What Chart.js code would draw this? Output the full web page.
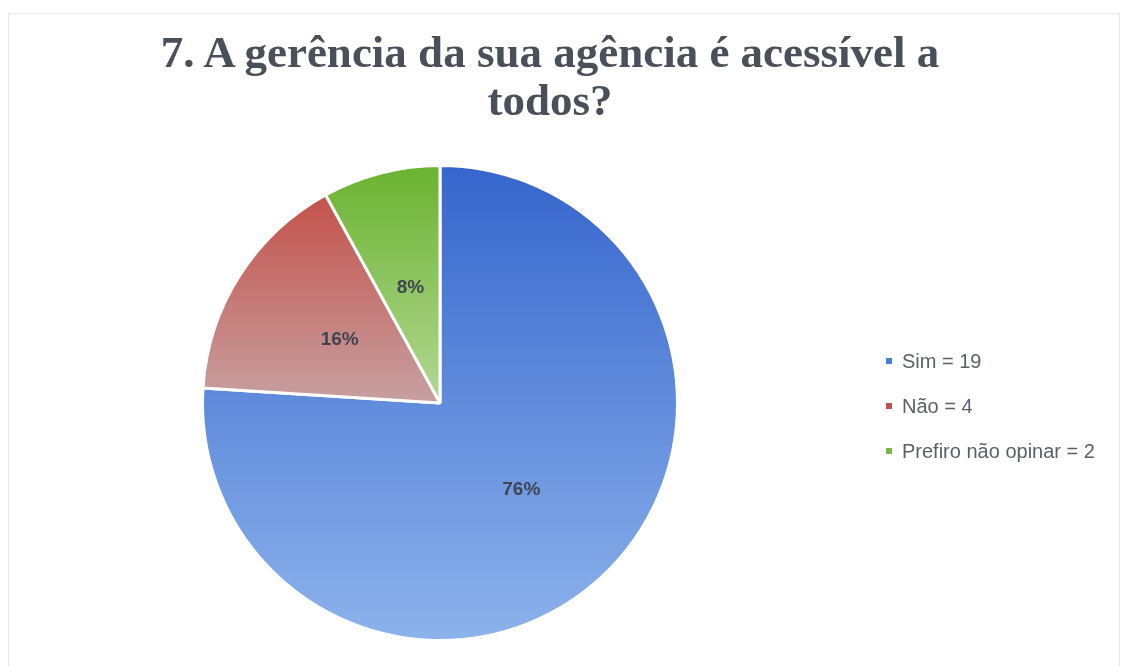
<!DOCTYPE html>
<html>
<head>
<meta charset="utf-8">
<script src="https://cdn.jsdelivr.net/npm/chart.js@4"></script>
<style>
  body { margin: 0; background: #fff; }
  #frame { position: absolute; left: 8px; top: 13px; width: 1110px; height: 660px; border: 1px solid #e6e6e6; }
  #title {
    position: absolute; left: 0; top: 28px; width: 1100px; text-align: center;
    font: bold 45px/48px "Liberation Serif", serif; color: #4a5059;
  }
  #wrap { position: absolute; left: 0; top: 0; width: 1100px; height: 666px; }
</style>
</head>
<body>
<div id="frame"></div>
<div id="wrap"><canvas id="pieChart"></canvas></div>
<div id="title">7. A gerência da sua agência é acessível a<br>todos?</div>
<script>
// chart data
const categories = ["Sim", "Não", "Prefiro não opinar"];
const counts = [19, 4, 2];

// gradient stops per slice: [top, bottom]
const topColors = ["#3565cc", "#c4463f", "#6ab330"];
const bottomColors = ["#8db3ec", "#c7a0a0", "#b3d793"];
const legendColors = ["#4a7fd6", "#c0504d", "#7ab648"];

const total = counts.reduce((a, b) => a + b, 0);

function sliceFill(c) {
  const chart = c.chart;
  const area = chart.chartArea;
  const i = c.dataIndex;
  if (!area) return legendColors[i];
  // red and green sit in the upper half only, so stretch them to the centre
  const bottom = i === 0 ? area.bottom : (area.top + area.bottom) / 2;
  const g = chart.ctx.createLinearGradient(0, area.top, 0, bottom);
  g.addColorStop(0, topColors[i]);
  g.addColorStop(1, bottomColors[i]);
  return g;
}

// percentage labels in the middle of each slice
const pctLabels = {
  id: "pctLabels",
  afterDatasetsDraw(chart) {
    const ctx = chart.ctx;
    const meta = chart.getDatasetMeta(0);
    ctx.save();
    ctx.font = "bold 19px 'Liberation Sans', Arial, sans-serif";
    ctx.fillStyle = "#3f4552";
    ctx.textAlign = "center";
    ctx.textBaseline = "middle";
    meta.data.forEach((arc, i) => {
      const p = arc.tooltipPosition();
      ctx.fillText(Math.round(counts[i] / total * 100) + "%", p.x, p.y);
    });
    ctx.restore();
  }
};

// legend on the right, in the space kept free by layout padding
const sideLegend = {
  id: "sideLegend",
  afterDraw(chart) {
    const ctx = chart.ctx;
    const area = chart.chartArea;
    const cy = (area.top + area.bottom) / 2 + 3;
    const x = area.right + 6;
    ctx.save();
    ctx.font = "20px 'Liberation Sans', Arial, sans-serif";
    ctx.textBaseline = "middle";
    chart.data.labels.forEach((lab, i) => {
      const y = cy + (i - 1) * 45;
      ctx.fillStyle = legendColors[i];
      ctx.fillRect(x, y - 3, 6, 6);
      ctx.fillStyle = "#5b5f66";
      ctx.fillText(lab + " = " + counts[i], x + 16, y + 1);
    });
    ctx.restore();
  }
};

new Chart(document.getElementById("pieChart"), {
  type: "pie",
  data: {
    labels: categories,
    datasets: [{
      data: counts,
      backgroundColor: sliceFill,
      borderColor: "#ffffff",
      borderWidth: 3
    }]
  },
  options: {
    responsive: true,
    maintainAspectRatio: false,
    animation: false,
    layout: { padding: { left: 0, right: 220, top: 164, bottom: 24 } },
    plugins: {
      tooltip: { enabled: false },
      legend: { display: false }
    }
  },
  plugins: [pctLabels, sideLegend]
});
</script>
</body>
</html>
